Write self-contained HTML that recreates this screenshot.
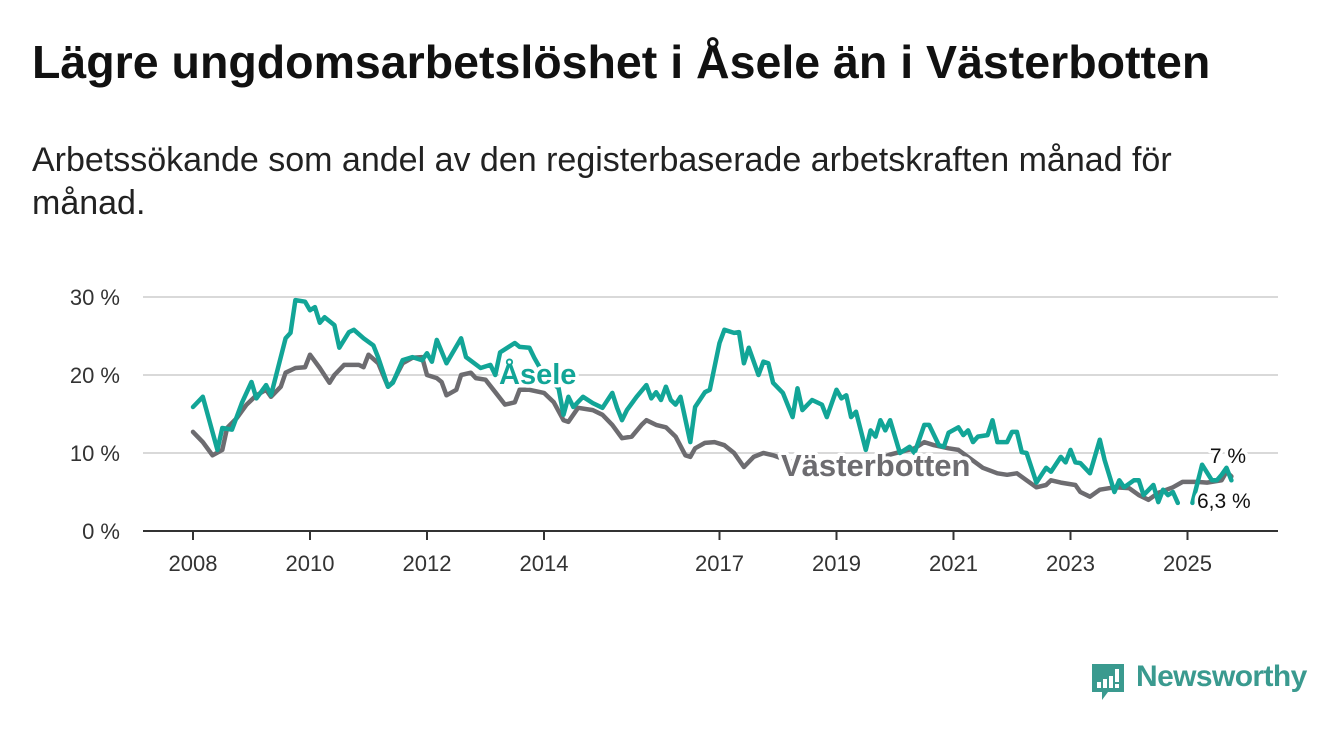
<!DOCTYPE html>
<html><head><meta charset="utf-8">
<style>
body{margin:0;background:#fff;width:1340px;height:734px;overflow:hidden;font-family:"Liberation Sans",sans-serif;}
#title{position:absolute;left:32px;top:35px;font-size:46.5px;font-weight:bold;color:#111;margin:0;white-space:nowrap;}
#sub{position:absolute;left:32px;top:139px;font-size:34px;color:#222;line-height:43px;width:1190px;margin:0;}
svg{position:absolute;left:0;top:0;}
</style></head><body>
<h1 id="title">Lägre ungdomsarbetslöshet i Åsele än i Västerbotten</h1>
<p id="sub">Arbetssökande som andel av den registerbaserade arbetskraften månad för månad.</p>
<svg id="chart" width="1340" height="734"></svg>
<div style="position:absolute;left:1090px;top:662px;height:40px;">
<svg width="36" height="42" style="position:absolute;left:0;top:0">
<path d="M2 2h32v28h-16l-6 8v-8h-10z" fill="#3a9a8f"/>
<rect x="7" y="20" width="4" height="6" fill="#fff"/><rect x="13" y="17" width="4" height="9" fill="#fff"/><rect x="19" y="14" width="4" height="12" fill="#fff"/><rect x="25" y="7" width="4" height="13" fill="#fff"/><rect x="25" y="22" width="4" height="4" fill="#fff"/>
</svg>
<span style="position:absolute;left:46px;top:-2px;font-size:30px;font-weight:bold;color:#3a9a8f;white-space:nowrap;letter-spacing:-0.6px">Newsworthy</span>
</div>
<script>
const yTicks=[0,10,20,30];
const yTickLabels=["0 %","10 %","20 %","30 %"];
const xTickYears=[2008,2010,2012,2014,2017,2019,2021,2023,2025];
const aseleMonths=[0,2,5,6,8,10,12,13,15,16,19,20,21,23,24,25,26,27,29,30,32,33,35,37,38,40,41,43,45,47,48,49,50,52,55,56,59,61,62,63,66,67,69,70,72,75,76,77,78,80,82,84,86,87,88,89,91,93,94,95,96,97,98,99,100,102,103,105,106,108,109,111,112,113,114,116,117,118,119,121,123,124,125,127,129,130,132,133,134,135,136,138,139,140,141,142,143,145,147,148,150,151,153,154,155,157,158,159,160,161,163,164,165,167,168,169,170,171,173,175,176,178,179,180,181,182,184,186,187,189,190,191,193,194,195,197,198,199,200,201,202,203,205,207,209,210,211,212,213];
const aseleValues=[15.9,17.2,10.4,13.2,13,16.4,19.1,17,18.7,17.4,24.7,25.4,29.6,29.4,28.3,28.7,26.7,27.4,26.4,23.5,25.5,25.8,24.7,23.8,22.2,18.5,19,21.9,22.3,21.9,22.8,21.7,24.5,21.5,24.7,22.3,20.9,21.3,20,22.9,24.1,23.6,23.5,22.2,20,18.3,14.9,17.2,15.9,17.2,16.4,15.8,17.7,15.8,14.2,15.5,17.2,18.7,17,17.8,16.8,18.5,16.8,16.2,17.2,11.4,15.9,17.8,18.1,24.1,25.8,25.4,25.5,21.5,23.5,20,21.7,21.5,19,17.7,14.6,18.3,15.5,16.8,16.2,14.6,18.1,17,17.4,14.6,15.3,10.4,12.9,12.1,14.2,12.9,14.2,10,10.8,10,13.6,13.6,11,10.8,12.6,13.3,12.3,12.9,11.4,12.1,12.3,14.2,11.4,11.4,12.7,12.7,10.1,10,6.2,8.1,7.6,9.5,8.8,10.4,8.8,8.7,7.4,11.7,9.1,5,6.5,5.6,6.5,6.5,4.6,5.9,3.7,5.3,4.6,5,3.6,null,3.6,8.5,6.5,6.5,7.2,8.1,6.5,6.3];
const vbMonths=[0,2,4,6,7,9,11,13,15,16,18,19,21,23,24,26,28,29,31,34,35,36,38,40,41,43,45,47,48,50,51,52,54,55,57,58,60,62,64,66,67,69,72,74,76,77,79,82,84,86,88,90,92,93,95,97,99,101,102,103,105,107,109,111,113,115,117,119,123,128,133,138,143,148,150,152,155,157,162,165,167,169,171,173,175,176,178,181,182,184,186,189,192,194,196,198,201,203,206,208,211,212,213];
const vbValues=[12.7,11.4,9.7,10.4,13.2,14.5,16.2,17.4,18.1,17.2,18.5,20.3,20.9,21,22.6,20.9,19,20,21.3,21.3,21,22.6,21.5,18.5,19.1,21.5,22.2,22.3,20,19.6,19.1,17.4,18.1,20,20.3,19.6,19.4,17.8,16.2,16.5,18.1,18.1,17.7,16.5,14.2,14,15.8,15.5,14.9,13.6,11.9,12.1,13.6,14.2,13.6,13.3,12.1,9.7,9.5,10.6,11.3,11.4,11,10,8.2,9.5,10,9.7,8.8,8.5,8.3,8.6,9.8,10.6,11.4,11,10.6,10.4,8.1,7.4,7.2,7.4,6.5,5.6,5.9,6.5,6.2,5.9,5,4.4,5.3,5.6,5.5,4.6,4,4.9,5.6,6.3,6.3,6.2,6.5,7.6,7];

const NS="http://www.w3.org/2000/svg";
const svg=document.getElementById('chart');
const x0=193, pxPerYear=58.5, yBase=531, pxPerPct=7.8;
function xm(m){return x0+m*pxPerYear/12;}
function xy(yr){return x0+(yr-2008)*pxPerYear;}
function yv(v){return yBase-v*pxPerPct;}
function mk(tag,attrs,parent){const e=document.createElementNS(NS,tag);for(const k in attrs)e.setAttribute(k,attrs[k]);(parent||svg).appendChild(e);return e;}

yTicks.forEach((t,i)=>{
  if(t>0){const g=mk('line',{x1:143,x2:1278,y1:yv(t),y2:yv(t),stroke:'#d9d9d9','stroke-width':2});
  
  }
  const l=mk('text',{x:120,y:yv(t)+8,'text-anchor':'end','font-size':22,fill:'#333','font-family':'Liberation Sans, sans-serif'});
  l.textContent=yTickLabels[i];
  
  
});
const ax=mk('line',{x1:143,x2:1278,y1:yBase,y2:yBase,stroke:'#333','stroke-width':2});


xTickYears.forEach(yr=>{
  const t=mk('line',{x1:xy(yr),x2:xy(yr),y1:yBase,y2:yBase+9,stroke:'#333','stroke-width':2});
  
  
  const l=mk('text',{x:xy(yr),y:571,'text-anchor':'middle','font-size':22,fill:'#333','font-family':'Liberation Sans, sans-serif'});
  l.textContent=yr;
  
  
});
function drawSeries(months,vals,color,name){
  let d='',pen=false;
  months.forEach((m,i)=>{const v=vals[i];
    if(v===null){pen=false;return;}
    d+=(pen?'L':'M')+xm(m).toFixed(1)+' '+yv(v).toFixed(1);pen=true;});
  const p=mk('path',{d:d,fill:'none',stroke:color,'stroke-width':4.5,'stroke-linejoin':'round','stroke-linecap':'round'});
  
  
  return p;
}
drawSeries(vbMonths,vbValues,'#6d6c70','vasterbotten-line');
drawSeries(aseleMonths,aseleValues,'#12a597','asele-line');
function label(txt,x,y,color,size,weight,anchor,name){
  const t=mk('text',{x:x,y:y,fill:color,'font-size':size,'font-weight':weight,'text-anchor':anchor||'start',stroke:'#fff','stroke-width':7,'paint-order':'stroke','stroke-linejoin':'round','font-family':'Liberation Sans, sans-serif'});
  t.textContent=txt;
  
  
}
label('Åsele',499,384,'#12a597',29,'bold','start','asele-series-label');
label('Västerbotten',781,476,'#6d6c70',31,'bold','start','vasterbotten-series-label');
const lastVb=vbValues[vbValues.length-1], lastAs=aseleValues[aseleValues.length-1];
label(String(lastVb).replace('.',',')+' %',1246,463,'#111',21,'normal','end','vasterbotten-end-value');
label(String(lastAs).replace('.',',')+' %',1197,508,'#111',21,'normal','start','asele-end-value');
</script>
</body></html>
